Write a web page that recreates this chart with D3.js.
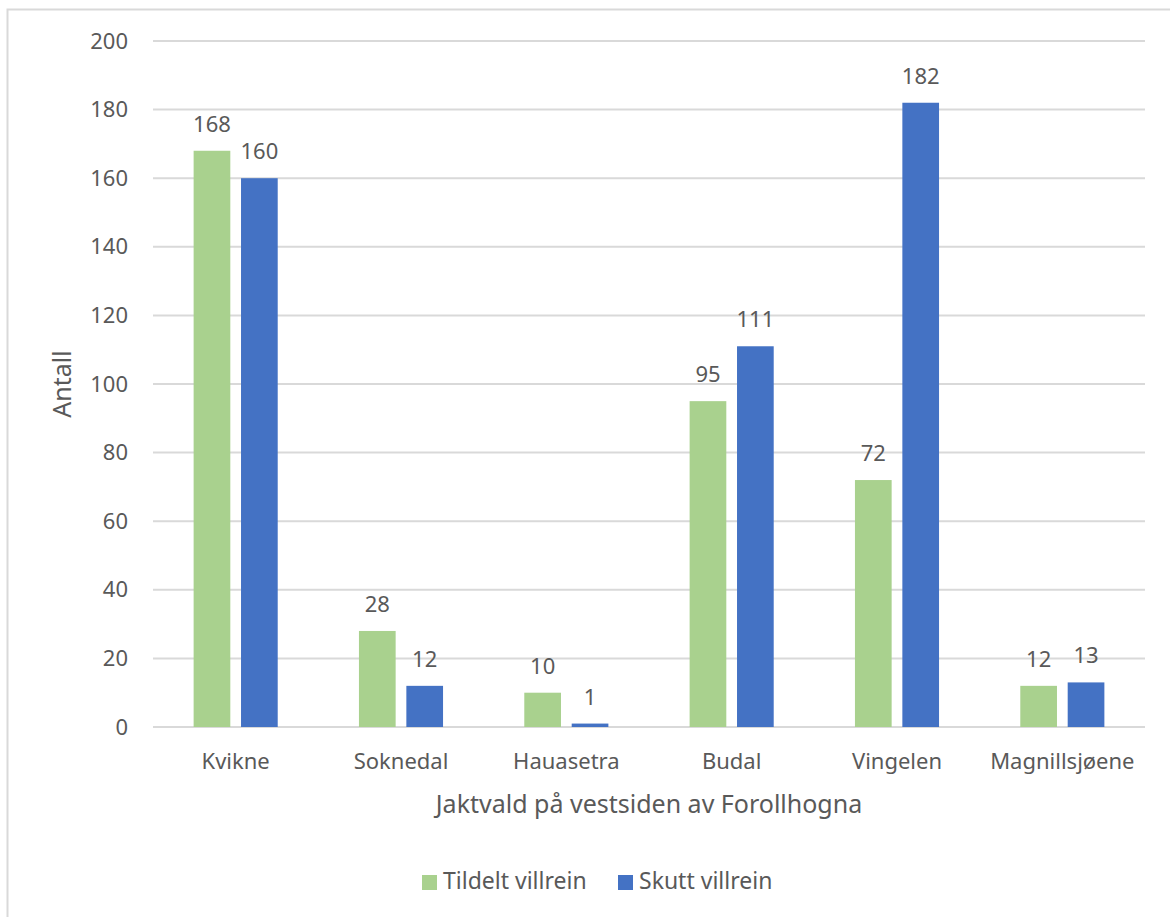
<!DOCTYPE html>
<html lang="no">
<head>
<meta charset="UTF-8">
<script src="https://d3js.org/d3.v7.min.js"></script>
<style>
  body { margin: 0; background: #fff; }
  text { font-family: "Noto Sans", "Open Sans", sans-serif; fill: #595959; }
</style>
</head>
<body>
<div id="container"></div>
<script>
// data
var categories = ["Kvikne", "Soknedal", "Hauasetra", "Budal", "Vingelen", "Magnillsjøene"];
var tildelt = [168, 28, 10, 95, 72, 12];
var skutt = [160, 12, 1, 111, 182, 13];
var seriesNames = ["Tildelt villrein", "Skutt villrein"];
var seriesColors = ["#A9D18E", "#4472C4"];
var yTicks = [0, 20, 40, 60, 80, 100, 120, 140, 160, 180, 200];

var W = 1170, H = 917;
var plot = { left: 153, right: 1145, top: 41, bottom: 727 };

var svg = d3.select("#container").append("svg")
    .attr("width", W)
    .attr("height", H);

// chart border (right and bottom edges are outside the picture)
svg.append("rect")
    .attr("x", 7.5).attr("y", 9.5)
    .attr("width", 1200).attr("height", 1000)
    .attr("fill", "#fff")
    .attr("stroke", "#D9D9D9")
    .attr("stroke-width", 2);

var x = d3.scaleBand()
    .domain(categories)
    .range([plot.left, plot.right]);

var inner = d3.scaleBand()
    .domain([0, 1])
    .range([0, x.bandwidth()])
    .paddingInner(0.226)
    .paddingOuter(0.857);

var y = d3.scaleLinear()
    .domain([0, 200])
    .range([plot.bottom, plot.top]);

// horizontal grid
svg.append("g")
    .selectAll("line")
    .data(yTicks)
    .enter().append("line")
    .attr("x1", plot.left)
    .attr("x2", plot.right)
    .attr("y1", function (d) { return y(d); })
    .attr("y2", function (d) { return y(d); })
    .attr("stroke", "#D9D9D9")
    .attr("stroke-width", 2);

// y tick labels
var yAxis = svg.append("g")
    .attr("transform", "translate(" + plot.left + ",0)")
    .call(d3.axisLeft(y).tickValues(yTicks).tickSize(0).tickPadding(25));
yAxis.select(".domain").remove();
yAxis.selectAll("text")
    .attr("font-size", "22px")
    .attr("fill", "#595959")
    .attr("font-family", "\"Noto Sans\", sans-serif");

// bars
var rows = categories.map(function (c, i) {
    return { cat: c, values: [tildelt[i], skutt[i]] };
});

var groups = svg.append("g")
    .selectAll("g")
    .data(rows)
    .enter().append("g")
    .attr("transform", function (d) { return "translate(" + x(d.cat) + ",0)"; });

groups.selectAll("rect")
    .data(function (d) { return d.values.map(function (v, s) { return { s: s, v: v }; }); })
    .enter().append("rect")
    .attr("x", function (d) { return inner(d.s); })
    .attr("width", inner.bandwidth())
    .attr("y", function (d) { return y(d.v); })
    .attr("height", function (d) { return y(0) - y(d.v); })
    .attr("fill", function (d) { return seriesColors[d.s]; });

groups.selectAll("text")
    .data(function (d) { return d.values.map(function (v, s) { return { s: s, v: v }; }); })
    .enter().append("text")
    .attr("x", function (d) { return inner(d.s) + inner.bandwidth() / 2; })
    .attr("y", function (d) { return y(d.v) - 19; })
    .attr("text-anchor", "middle")
    .attr("font-size", "22px")
    .text(function (d) { return d.v; });

// x axis labels
var xAxis = svg.append("g")
    .attr("transform", "translate(0," + plot.bottom + ")")
    .call(d3.axisBottom(x).tickSize(0).tickPadding(0));
xAxis.select(".domain").remove();
xAxis.selectAll("text")
    .attr("dy", null)
    .attr("y", 42)
    .attr("font-size", "22px")
    .attr("fill", "#595959")
    .attr("font-family", "\"Noto Sans\", sans-serif");

// axis titles
svg.append("text")
    .attr("x", (plot.left + plot.right) / 2)
    .attr("y", 813)
    .attr("text-anchor", "middle")
    .attr("font-size", "25px")
    .text("Jaktvald på vestsiden av Forollhogna");

svg.append("text")
    .attr("transform", "translate(71," + ((plot.top + plot.bottom) / 2) + ") rotate(-90)")
    .attr("text-anchor", "middle")
    .attr("font-size", "25px")
    .text("Antall");

// legend
var legendX = [422, 618];
var legend = svg.append("g")
    .selectAll("g")
    .data(seriesNames)
    .enter().append("g")
    .attr("transform", function (d, i) { return "translate(" + legendX[i] + ",875)"; });

legend.append("rect")
    .attr("width", 15).attr("height", 15)
    .attr("fill", function (d, i) { return seriesColors[i]; });

legend.append("text")
    .attr("x", 21)
    .attr("y", 14)
    .attr("font-size", "23px")
    .text(function (d) { return d; });
</script>
</body>
</html>
